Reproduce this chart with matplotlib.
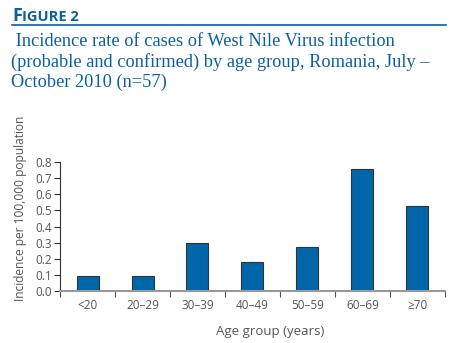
import matplotlib
matplotlib.use("Agg")
import matplotlib.pyplot as plt
import numpy as np

# Incidence per 100,000 by age group
age_groups = ["<20", "20–29", "30–39", "40–49", "50–59", "60–69", "≥70"]
incidence = [0.09, 0.09, 0.295, 0.178, 0.27, 0.756, 0.528]
y_ticks = [0.0, 0.1, 0.2, 0.3, 0.4, 0.5, 0.6, 0.7, 0.8]

blue = "#0b5fa5"
bar_blue = "#0066aa"
grey = "#555555"

W, H = 464, 343
fig = plt.figure(figsize=(W / 100, H / 100), dpi=100)
fig.patch.set_facecolor("white")

# header: "FIGURE 2" in small caps with rule underneath
t1 = fig.text(12 / W, 1 - 21 / H, "F", fontsize=13, fontweight="bold",
              color=blue, family="Open Sans", va="baseline")
fig.canvas.draw()
bb = t1.get_window_extent()
fig.text((bb.x1 + 0.5) / W, 1 - 21 / H, "IGURE 2", fontsize=10.5, fontweight="bold",
         color=blue, family="Open Sans", va="baseline")
fig.add_artist(plt.Line2D([12 / W, 446 / W], [1 - 24.5 / H, 1 - 24.5 / H],
                          color=blue, lw=1.2, transform=fig.transFigure))

title = (" Incidence rate of cases of West Nile Virus infection\n"
         "(probable and confirmed) by age group, Romania, July –\n"
         "October 2010 (n=57)")
fig.text(11 / W, 1 - 33 / H, title, fontsize=13.2, color=blue,
         family="Liberation Serif", va="top", linespacing=1.2)

# axes
ax = fig.add_axes([60 / W, 1 - 291 / H, 385 / W, 129 / H])
x = np.arange(len(age_groups))
ax.bar(x, incidence, width=0.4, color=bar_blue, edgecolor="#333333", linewidth=0.8)

ax.set_xlim(-0.5, len(age_groups) - 0.5)
ax.set_ylim(0, 0.8)
ax.set_yticks(y_ticks)
ax.set_yticklabels([f"{v:.1f}" for v in y_ticks])
ax.set_xticks(x)
ax.set_xticklabels(age_groups)
ax.set_xticks(np.arange(-0.5, len(age_groups) + 0.5, 1), minor=True)

for s in ["top", "right"]:
    ax.spines[s].set_visible(False)
ax.spines["left"].set_color("#333333")
ax.spines["left"].set_linewidth(0.8)
ax.spines["bottom"].set_color("#999999")
ax.spines["bottom"].set_linewidth(1.5)

ax.tick_params(axis="y", length=4, width=0.8, color="#333333", labelsize=8.5,
               labelcolor=grey, pad=2)
ax.tick_params(axis="x", which="major", length=0, labelsize=8.5, labelcolor=grey, pad=6)
ax.tick_params(axis="x", which="minor", length=4, width=0.8, color="#555555",
               direction="out")
for lab in ax.get_xticklabels() + ax.get_yticklabels():
    lab.set_family("Open Sans")

ax.set_ylabel("Incidence per 100,000 population", fontsize=8.6, color=grey,
              family="Open Sans")
ax.yaxis.set_label_coords(-33 / 385, (291 - 208) / 129)
ax.set_xlabel("Age group (years)", fontsize=9.5, color=grey, family="Open Sans")
ax.xaxis.set_label_coords((270 - 60) / 385, -(325 - 291) / 129)

fig.savefig("out.png", dpi=100)
